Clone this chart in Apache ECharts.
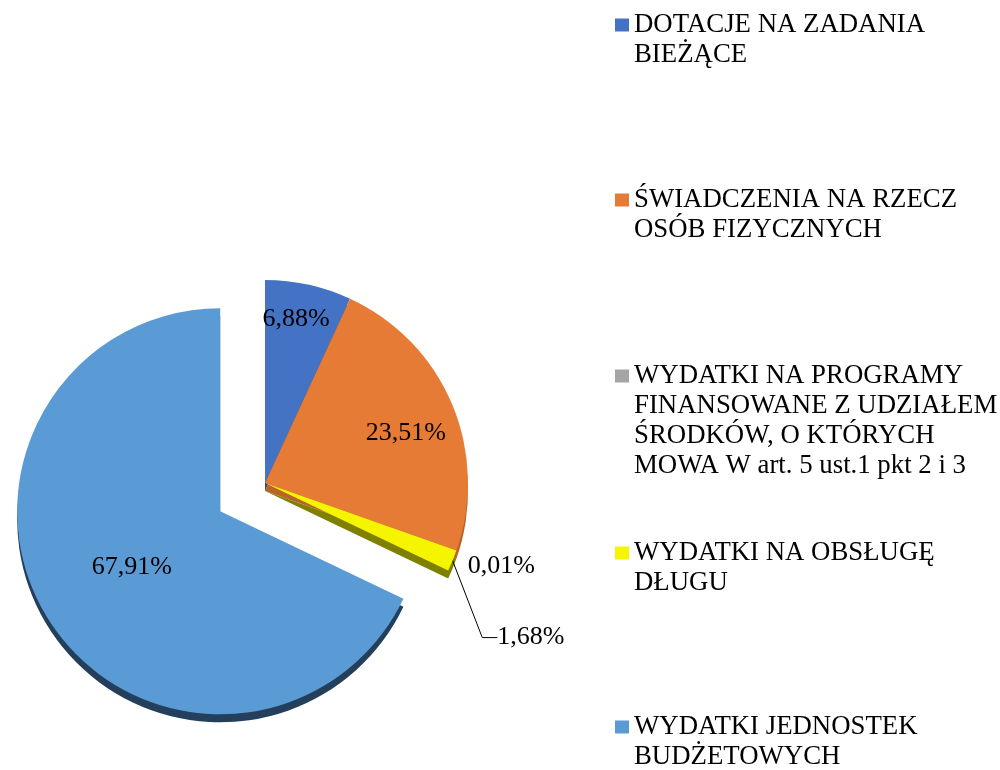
<!DOCTYPE html>
<html><head><meta charset="utf-8">
<script src="https://cdn.jsdelivr.net/npm/echarts@6/dist/echarts.min.js"></script>
<style>html,body{margin:0;padding:0;background:#fff}#c{width:1000px;height:770px}</style>
</head><body><div id="c"></div>
<script>
// ---- data ----
const categories = [
  "DOTACJE NA ZADANIA\nBIEŻĄCE",
  "ŚWIADCZENIA NA RZECZ\nOSÓB FIZYCZNYCH",
  "WYDATKI NA PROGRAMY\nFINANSOWANE Z UDZIAŁEM\nŚRODKÓW, O KTÓRYCH\nMOWA W art. 5 ust.1 pkt 2 i 3",
  "WYDATKI NA OBSŁUGĘ\nDŁUGU",
  "WYDATKI JEDNOSTEK\nBUDŻETOWYCH"
];
const values = [6.88, 23.51, 0.01, 1.68, 67.91];
const explodedIndex = 4;

// ---- styles / layout ----
const topColors  = ['#4472C4', '#E57B34', '#A5A5A5', '#F5F500', '#5B9BD5'];
const sideColors = ['#2B4A80', '#B9622A', '#6B6B6B', '#808000', '#243F5C'];
const CX = 265, CY = 483, R = 203, DEPTH = 8, OFF = 53;
const FONT = 'Liberation Serif';
const LAB = [ {f:0.82, da:-1.6}, {f:0.736, da:3.3}, {f:1.234, da:0}, {f:1.515, da:7.7}, {f:0.773, da:4.4} ];
const legendIconY = [25, 200, 376, 553, 727];
const LINE = 30;

const total = values.reduce((a,b)=>a+b,0);
function fmt(v){ return v.toFixed(2).replace('.', ',') + '%'; }

function labelLayout(p){
  const i = p.dataIndex;
  let before = 0; for (let k=0;k<i;k++) before += values[k];
  const midFrac = (before + values[i]/2) / total;
  let cx = CX, cy = CY;
  if (i === explodedIndex) {
    const m = midFrac * 2 * Math.PI;
    cx += OFF * Math.sin(m); cy -= OFF * Math.cos(m);
  }
  const a = (midFrac*360 + LAB[i].da) * Math.PI / 180;
  return { x: cx + LAB[i].f*R*Math.sin(a), y: cy - LAB[i].f*R*Math.cos(a), align:'center', verticalAlign:'middle' };
}

function pieData(colors, withLabels){
  return values.map((v,i)=>({
    name: categories[i], value: v, selected: i === explodedIndex,
    itemStyle: { color: colors[i], borderWidth: 0 },
    label: withLabels ? { position: (i===2||i===3) ? 'outside' : 'inside' } : { show:false },
    labelLine: { show: withLabels && i===3, length: 10, length2: 15, lineStyle: { color:'#000', width:1 } }
  }));
}

const common = {
  type:'pie', radius: R, startAngle: 90, clockwise: true,
  selectedMode: 'single', selectedOffset: OFF, avoidLabelOverlap: false,
  animation: false, silent: true, emphasis: { disabled: true },
  select: { itemStyle: { borderWidth: 0 } }
};

// legend: icon aligned with the first text line (leading blank lines centre the block on line 1)
const legends = categories.map((name, i) => {
  const n = name.split('\n').length;
  return {
    orient: 'vertical', left: 615, top: legendIconY[i] - (2*n-1)*LINE/2,
    itemWidth: 14, itemHeight: 13, itemGap: 0, padding: 0, icon: 'rect',
    selectedMode: false, data: [name],
    formatter: nm => '\n'.repeat(n-1) + nm,
    itemStyle: { borderWidth: 0 },
    textStyle: { fontFamily: FONT, fontSize: 26.8, lineHeight: LINE, color: '#000' }
  };
});

const option = {
  backgroundColor: '#fff',
  legend: legends,
  series: [
    Object.assign({}, common, {
      name: 'main', center: [CX, CY], z: 3,
      data: pieData(topColors, true),
      label: { show: true, formatter: p => fmt(p.value), fontFamily: FONT, fontSize: 26, color: '#000' },
      labelLine: { show: false },
      labelLayout: labelLayout
    }),
    Object.assign({}, common, {
      name: 'depth', center: [CX, CY + DEPTH], z: 2,
      data: pieData(sideColors, false),
      label: { show: false }, labelLine: { show: false }
    })
  ]
};
const chart = echarts.init(document.getElementById('c'), null, { renderer: 'canvas' });
chart.setOption(option);
</script>
</body></html>
